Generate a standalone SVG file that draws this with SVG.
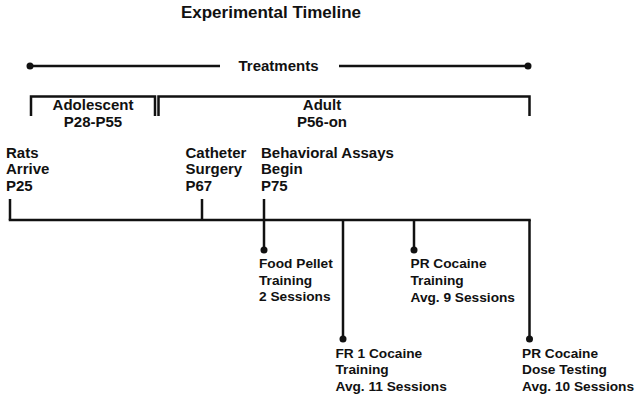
<svg xmlns="http://www.w3.org/2000/svg" width="641" height="400" viewBox="0 0 641 400">
<style>
text{font-family:"Liberation Sans",Arial,sans-serif;font-weight:bold;fill:#111}
.t{font-size:15px}
.b{font-size:13.7px}
.ln{stroke:#111;stroke-width:2.5;fill:none}
.dot{fill:#111}
</style>
<rect width="641" height="400" fill="#fff"/>
<text x="271" y="18" font-size="17" text-anchor="middle">Experimental Timeline</text>
<g id="treatments">
<line class="ln" x1="30" y1="66" x2="220" y2="66" stroke-width="2"/>
<line class="ln" x1="339" y1="66" x2="528" y2="66" stroke-width="2"/>
<circle class="dot" cx="30" cy="66" r="3.5"/>
<circle class="dot" cx="528" cy="66" r="3.5"/>
<text class="t" x="278.5" y="71" text-anchor="middle">Treatments</text>
</g>
<g id="adolescent">
<path class="ln" d="M31,116 V96.5 H155 V116"/>
<text class="t" x="93" y="110" text-anchor="middle">Adolescent</text>
<text class="t" x="93" y="127" text-anchor="middle">P28-P55</text>
</g>
<g id="adult">
<path class="ln" d="M158.5,116 V96.5 H529.5 V116"/>
<text class="t" x="322" y="110" text-anchor="middle">Adult</text>
<text class="t" x="322" y="127" text-anchor="middle">P56-on</text>
</g>
<g id="connectors">
<line class="ln" x1="8.75" y1="220" x2="530.75" y2="220"/>
<line class="ln" x1="10" y1="199" x2="10" y2="220"/>
<line class="ln" x1="202" y1="199" x2="202" y2="220"/>
<line class="ln" x1="264" y1="199" x2="264" y2="250"/>
<line class="ln" x1="343" y1="220" x2="343" y2="339"/>
<line class="ln" x1="414" y1="220" x2="414" y2="250"/>
<line class="ln" x1="529.5" y1="220" x2="529.5" y2="339"/>
<circle class="dot" cx="264" cy="250" r="3.5"/>
<circle class="dot" cx="343" cy="339" r="3.5"/>
<circle class="dot" cx="414" cy="250" r="3.5"/>
<circle class="dot" cx="529.5" cy="339" r="3.5"/>
</g>
<g id="rats">
<text class="t" x="6" y="157.5">Rats</text>
<text class="t" x="6" y="174">Arrive</text>
<text class="t" x="6" y="190.5">P25</text>
</g>
<g id="catheter">
<text class="t" x="185.5" y="157.5">Catheter</text>
<text class="t" x="185.5" y="174">Surgery</text>
<text class="t" x="185.5" y="190.5">P67</text>
</g>
<g id="behavioral">
<text class="t" x="261" y="157.5">Behavioral Assays</text>
<text class="t" x="261" y="174">Begin</text>
<text class="t" x="261" y="190.5">P75</text>
</g>
<g id="food">
<text class="b" x="259" y="267.5">Food Pellet</text>
<text class="b" x="259" y="284.5">Training</text>
<text class="b" x="259" y="301">2 Sessions</text>
</g>
<g id="pr-training">
<text class="b" x="410.5" y="268">PR Cocaine</text>
<text class="b" x="410.5" y="285">Training</text>
<text class="b" x="410.5" y="301.5">Avg. 9 Sessions</text>
</g>
<g id="fr1">
<text class="b" x="335.5" y="357.5">FR 1 Cocaine</text>
<text class="b" x="335.5" y="374">Training</text>
<text class="b" x="335.5" y="390.5">Avg. 11 Sessions</text>
</g>
<g id="pr-dose">
<text class="b" x="522" y="357.5">PR Cocaine</text>
<text class="b" x="522" y="374">Dose Testing</text>
<text class="b" x="522" y="390.5">Avg. 10 Sessions</text>
</g>
</svg>
